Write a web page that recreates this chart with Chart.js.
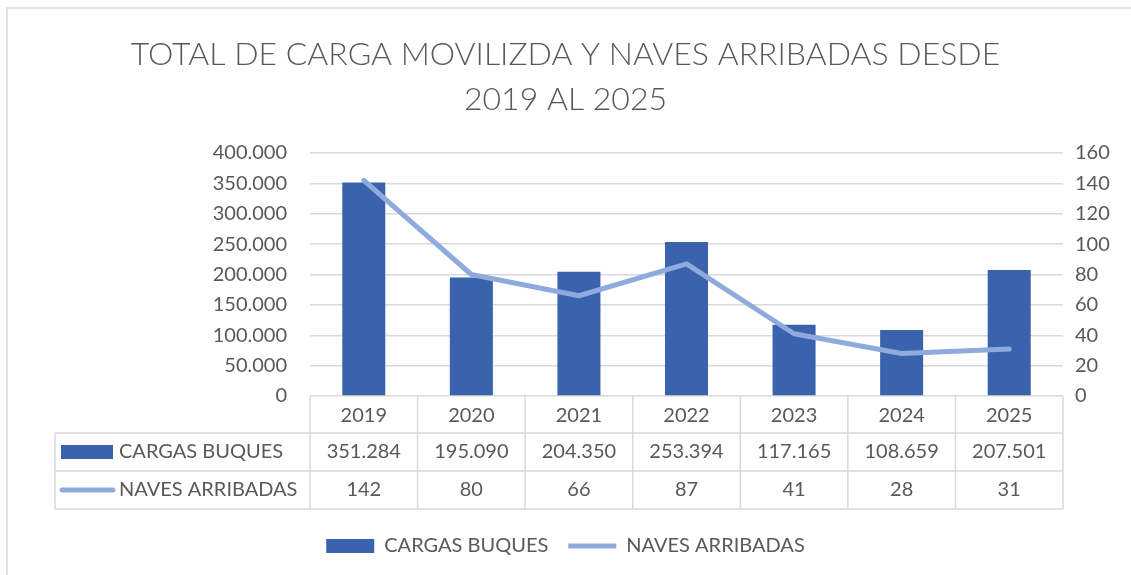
<!DOCTYPE html>
<html lang="es">

<head>
    <meta charset="UTF-8">
    <meta name="viewport" content="width=device-width, initial-scale=1.0">
    <script src="https://cdn.jsdelivr.net/npm/chart.js"></script>
    <title>Carga y naves</title>
    <style>
        body { margin: 0; background: #fff; }
        canvas { display: block; }
    </style>
</head>

<body>
    <canvas id="grafico" width="1131" height="575"></canvas>
</body>

<script>
    var anios = ['2019', '2020', '2021', '2022', '2023', '2024', '2025'];
    var cargasBuques = [351284, 195090, 204350, 253394, 117165, 108659, 207501];
    var navesArribadas = [142, 80, 66, 87, 41, 28, 31];
    var ticksCarga = [0, 50000, 100000, 150000, 200000, 250000, 300000, 350000, 400000];
    var ticksNaves = [0, 20, 40, 60, 80, 100, 120, 140, 160];

    var fuente = "Lato, 'Liberation Sans', sans-serif";
    var gris = '#595959';
    var lineaGris = '#d9d9d9';

    function puntos(v) {
        return String(v).replace(/\B(?=(\d{3})+(?!\d))/g, '.');
    }

    // tabla de datos debajo del eje x + marco
    const tablaDatos = {
        id: 'tablaDatos',
        beforeDraw(chart) {
            const ctx = chart.ctx;
            ctx.save();
            ctx.strokeStyle = lineaGris;
            ctx.lineWidth = 1.5;
            ctx.beginPath();
            ctx.moveTo(7, 575);
            ctx.lineTo(7, 8);
            ctx.lineTo(1131, 8);
            ctx.stroke();
            ctx.restore();
        },
        afterDraw(chart) {
            const ctx = chart.ctx;
            const area = chart.chartArea;
            const x = chart.scales.x;
            const n = anios.length;
            const ancho = (area.right - area.left) / n;
            const filas = [area.bottom, area.bottom + 37, area.bottom + 75, area.bottom + 113];
            const izq = 55;

            ctx.save();
            ctx.strokeStyle = lineaGris;
            ctx.lineWidth = 1.5;
            ctx.beginPath();
            for (let i = 0; i <= n; i++) {
                const xx = area.left + i * ancho;
                ctx.moveTo(xx, filas[0]);
                ctx.lineTo(xx, filas[3]);
            }
            for (let j = 1; j <= 3; j++) {
                ctx.moveTo(izq, filas[j]);
                ctx.lineTo(area.right, filas[j]);
            }
            ctx.moveTo(izq, filas[1]);
            ctx.lineTo(izq, filas[3]);
            ctx.stroke();

            ctx.fillStyle = gris;
            ctx.font = '20px ' + fuente;
            ctx.textBaseline = 'middle';
            ctx.textAlign = 'center';
            const series = [cargasBuques, navesArribadas];
            series.forEach((serie, j) => {
                const yc = (filas[j + 1] + filas[j + 2]) / 2;
                serie.forEach((v, i) => {
                    ctx.fillText(puntos(v), x.getPixelForValue(i), yc);
                });
            });

            const ds = chart.data.datasets;
            let yc = (filas[1] + filas[2]) / 2;
            ctx.fillStyle = ds[0].backgroundColor;
            ctx.fillRect(61, yc - 7, 52, 14);
            ctx.fillStyle = gris;
            ctx.textAlign = 'left';
            ctx.fillText(ds[0].label, 119, yc);

            yc = (filas[2] + filas[3]) / 2;
            ctx.strokeStyle = ds[1].borderColor;
            ctx.lineWidth = 5;
            ctx.lineCap = 'round';
            ctx.beginPath();
            ctx.moveTo(62, yc);
            ctx.lineTo(113, yc);
            ctx.stroke();
            ctx.fillText(ds[1].label, 119, yc);
            ctx.restore();
        }
    };

    new Chart(document.getElementById('grafico'), {
        data: {
            labels: anios,
            datasets: [{
                type: 'bar',
                label: 'CARGAS BUQUES',
                data: cargasBuques,
                backgroundColor: '#3b63ad',
                borderWidth: 0,
                categoryPercentage: 1,
                barPercentage: 0.4,
                yAxisID: 'y',
                pointStyle: 'rect',
                order: 1
            }, {
                type: 'line',
                label: 'NAVES ARRIBADAS',
                data: navesArribadas,
                borderColor: '#8faadc',
                backgroundColor: '#8faadc',
                borderWidth: 5,
                borderCapStyle: 'round',
                borderJoinStyle: 'round',
                pointRadius: 0,
                pointStyle: 'line',
                tension: 0,
                yAxisID: 'y1',
                order: 0
            }]
        },
        options: {
            responsive: false,
            animation: false,
            layout: { padding: { left: 0, right: 0, top: 0, bottom: 9 } },
            plugins: {
                tooltip: { enabled: false },
                title: {
                    display: true,
                    text: ['TOTAL DE CARGA MOVILIZDA Y NAVES ARRIBADAS DESDE', '2019 AL 2025'],
                    color: gris,
                    font: { family: fuente, size: 32, weight: '300', lineHeight: '45px' },
                    padding: { top: 32, bottom: 31 }
                },
                legend: {
                    position: 'bottom',
                    labels: {
                        usePointStyle: true,
                        pointStyleWidth: 48,
                        boxHeight: 14,
                        padding: 20,
                        color: gris,
                        font: { family: fuente, size: 20 },
                        sort: (a, b) => a.datasetIndex - b.datasetIndex
                    }
                }
            },
            scales: {
                x: {
                    offset: true,
                    grid: { display: false },
                    border: { display: false },
                    ticks: { color: gris, font: { family: fuente, size: 20 }, padding: 0 },
                    afterFit: s => { s.height = 120; }
                },
                y: {
                    position: 'left',
                    min: 0,
                    max: 400000,
                    afterBuildTicks: s => { s.ticks = ticksCarga.map(v => ({ value: v })); },
                    grid: { color: lineaGris, lineWidth: 1.5, drawTicks: false },
                    border: { display: false },
                    ticks: { color: gris, font: { family: fuente, size: 20 }, padding: 23, callback: v => puntos(v) },
                    afterFit: s => { s.width = 310; }
                },
                y1: {
                    position: 'right',
                    min: 0,
                    max: 160,
                    afterBuildTicks: s => { s.ticks = ticksNaves.map(v => ({ value: v })); },
                    grid: { drawOnChartArea: false, drawTicks: false },
                    border: { display: false },
                    ticks: { color: gris, font: { family: fuente, size: 20 }, padding: 12 },
                    afterFit: s => { s.width = 68; }
                }
            }
        },
        plugins: [tablaDatos]
    });
</script>

</html>
